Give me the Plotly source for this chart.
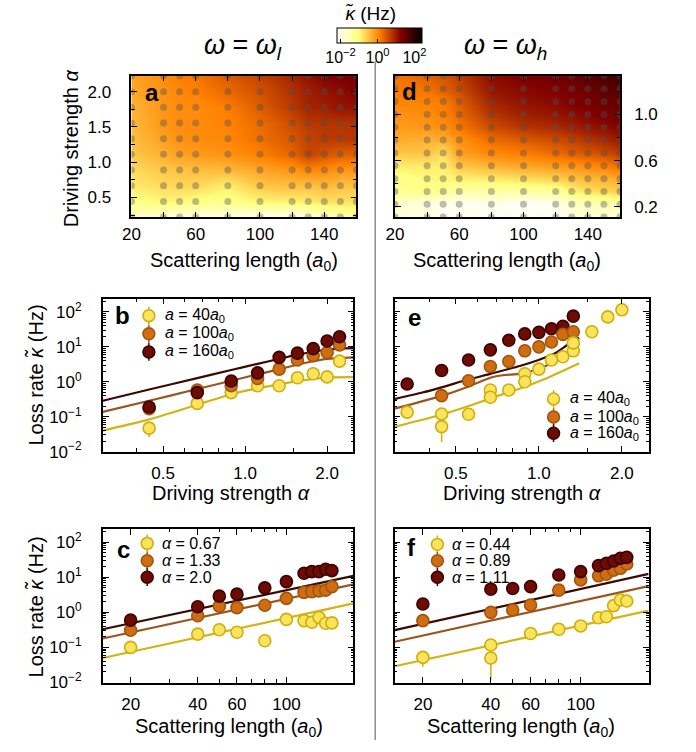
import plotly.graph_objects as go

W, H = 696, 752
def fx(p): return p / W
def fy(p): return 1 - p / H

# ------------------------------------------------------------------ data
A_GRID = [20, 40, 50, 60, 80, 100, 120, 130, 140, 150, 160]

# panel a : omega = omega_l, log10(kappa) on (alpha, a) grid, rows = alpha
ALPHA_L = [0.222, 0.444, 0.667, 0.889, 1.111, 1.333, 1.556, 1.778, 2.0, 2.222]
LOGK_L = [
    [-1.61, -1.80, -1.90, -1.90, -1.90, -2.00, -1.98, -1.80, -1.60, -1.40, -1.30],
    [-1.14, -0.96, -1.00, -1.10, -1.15, -0.95, -0.92, -0.85, -0.77, -0.77, -0.77],
    [-0.87, -0.73, -0.69, -0.69, -0.92, -0.55, -0.47, -0.51, -0.42, -0.51, -0.51],
    [-0.73, -0.55, -0.51, -0.47, -0.42, -0.24, -0.10, 0.03, -0.01, -0.10, -0.10],
    [-0.55, -0.33, -0.19, -0.15, -0.06, 0.10, 0.35, 0.65, 0.50, 0.38, 0.38],
    [-0.47, -0.19, -0.06, -0.01, 0.03, 0.24, 0.47, 0.63, 0.72, 0.72, 0.76],
    [-0.42, -0.10, -0.01, -0.01, 0.08, 0.28, 0.56, 0.74, 0.78, 0.78, 0.81],
    [-0.37, -0.10, -0.01, -0.01, 0.12, 0.42, 0.74, 0.93, 0.97, 1.07, 1.07],
    [-0.28, -0.06, 0.03, 0.08, 0.29, 0.51, 0.81, 0.97, 1.07, 1.14, 1.23],
    [-0.22, -0.02, 0.10, 0.19, 0.42, 0.65, 0.93, 1.10, 1.23, 1.27, 1.37],
]

# panel d : omega = omega_h
ALPHA_H = [0.111, 0.222, 0.333, 0.444, 0.556, 0.667, 0.778, 0.889, 1.0, 1.111, 1.222, 1.333]
LOGK_H = [
    [-1.90, -1.95, -2.05, -2.05, -2.05, -2.05, -2.05, -1.85, -1.85, -1.85, -1.85],
    [-1.70, -1.95, -2.00, -2.10, -2.05, -2.15, -2.05, -1.70, -1.60, -1.50, -1.40],
    [-1.25, -1.15, -1.25, -1.40, -1.40, -1.35, -1.30, -0.95, -0.77, -0.69, -0.60],
    [-1.20, -1.00, -1.00, -0.95, -0.88, -0.77, -0.64, -0.51, -0.42, -0.37, -0.28],
    [-0.87, -0.87, -0.92, -0.55, -0.37, -0.24, -0.15, -0.10, -0.01, 0.08, 0.26],
    [-0.55, -0.51, -0.78, -0.19, 0.03, 0.12, 0.29, 0.40, 0.47, 0.56, 0.72],
    [-0.28, -0.37, -0.33, -0.06, 0.26, 0.42, 0.56, 0.65, 0.78, 0.88, 1.02],
    [-0.15, -0.10, -0.06, 0.17, 0.56, 0.78, 0.88, 0.97, 1.07, 1.14, 1.22],
    [-0.06, -0.01, 0.08, 0.30, 0.78, 0.97, 1.07, 1.14, 1.22, 1.32, 1.37],
    [0.05, 0.08, 0.12, 0.40, 0.93, 1.10, 1.17, 1.27, 1.32, 1.46, 1.50],
    [0.15, 0.20, 0.38, 0.56, 1.07, 1.18, 1.27, 1.32, 1.41, 1.55, 1.63],
    [0.19, 0.38, 0.47, 0.70, 1.14, 1.27, 1.37, 1.46, 1.60, 1.72, 1.85],
]

# panel b : loss rate vs driving strength, omega_l
ALPHA_B = [0.444, 0.667, 0.889, 1.111, 1.333, 1.556, 1.778, 2.0, 2.222]
B_40 = [0.047, 0.24, 0.49, 0.77, 0.77, 1.3, 1.7, 1.38, 3.9]
B_40_ERR = [0.021, 0, 0, 0, 0, 0, 0, 0, 0]
B_100 = [0.17, 0.58, 0.77, 1.24, 2.3, 4.2, 5.6, 6.9, 11.4]
B_160 = [0.19, 0.49, 1.05, 1.8, 5.0, 6.6, 8.9, 14.7, 19.5]
LINE_ALPHA_B = [0.30, 0.444, 0.667, 0.889, 1.111, 1.333, 1.556, 1.778, 2.0, 2.5]
LINE_B_40 = [0.040, 0.084, 0.22, 0.44, 0.65, 0.84, 1.04, 1.21, 1.32, 1.35]
LINE_B_100 = [0.138, 0.287, 0.62, 1.07, 1.64, 2.26, 3.13, 3.88, 4.51, 5.0]
LINE_B_160 = [0.287, 0.60, 1.27, 2.17, 3.27, 4.51, 5.97, 7.24, 8.41, 9.2]

# panel e : loss rate vs driving strength, omega_h
ALPHA_E40 = [0.333, 0.444, 0.444, 0.556, 0.667, 0.667, 0.778, 0.889, 0.889, 1.0,
             1.111, 1.222, 1.333, 1.333, 1.556, 1.778, 2.0]
E_40 = [0.135, 0.12, 0.052, 0.117, 0.58, 0.36, 0.58, 1.7, 1.0, 2.3,
        4.2, 5.2, 7.7, 13, 27, 72, 115]
E_40_ERR = [0, 0, 0.033, 0.03, 0, 0, 0, 0, 0, 0, 0, 0, 0, 0, 0, 0, 0]
ALPHA_E100 = [0.444, 0.556, 0.667, 0.778, 0.889, 1.0, 1.111, 1.222, 1.333]
E_100 = [0.40, 1.07, 2.75, 3.8, 7.7, 10, 13.8, 22.7, 27]
ALPHA_E160 = [0.333, 0.444, 0.556, 0.667, 0.778, 0.889, 1.0, 1.111, 1.222, 1.333]
E_160 = [0.86, 2.1, 4.2, 8.2, 15.4, 23.5, 26, 33, 39, 76]
LINE_ALPHA_E40 = [0.30, 0.444, 0.554, 0.671, 0.859, 1.04, 1.23, 1.40]
LINE_E_40 = [0.0513, 0.116, 0.200, 0.341, 0.650, 1.16, 2.12, 3.41]
LINE_ALPHA_E100 = [0.30, 0.444, 0.554, 0.671, 0.739, 0.859, 0.985, 1.13, 1.28, 1.40]
LINE_E_100 = [0.171, 0.396, 0.724, 1.32, 1.54, 1.71, 2.26, 3.64, 6.22, 8.61]
LINE_ALPHA_E160 = [0.30, 0.378, 0.444, 0.554, 0.671, 0.859, 0.985, 1.13, 1.28, 1.40]
LINE_E_160 = [0.320, 0.492, 0.693, 1.16, 1.71, 2.87, 4.05, 6.22, 11.9, 18.3]

# panel c : loss rate vs scattering length, omega_l
C_067 = [0.10, 0.24, 0.32, 0.27, 0.155, 0.63, 0.58, 0.52, 0.72, 0.49, 0.50]
C_067_ERR = [0.02, 0, 0, 0, 0, 0, 0, 0, 0, 0, 0]
C_133 = [0.31, 0.8, 1.5, 1.36, 1.6, 2.5, 3.7, 3.9, 4.1, 4.3, 5.4]
C_200 = [0.6, 1.45, 2.9, 3.3, 5.0, 7.5, 13, 14.5, 14.5, 17, 15.5]
LINE_A = [15, 200]
LINE_C_067 = [0.05, 1.8]
LINE_C_133 = [0.18, 6.3]
LINE_C_200 = [0.33, 11.0]

# panel f : loss rate vs scattering length, omega_h
F_A_044 = [20, 40, 40, 60, 80, 100, 120, 130, 140, 150, 160]
F_044 = [0.052, 0.117, 0.05, 0.25, 0.33, 0.41, 0.70, 0.75, 1.55, 2.25, 2.1]
F_044_ERR = [0.024, 0, 0.038, 0, 0, 0, 0, 0, 0, 0, 0]
F_089 = [0.58, 1.0, 1.17, 1.62, 4.3, 8.4, 11, 12.2, 16, 18, 24]
F_111 = [1.73, 4.6, 4.8, 5.4, 11.6, 14.5, 21.5, 25, 29, 35, 37]
LINE_F_044 = [0.029, 1.12]
LINE_F_089 = [0.145, 5.6]
LINE_F_111 = [0.31, 12.5]

LEG_B = ["<i>a</i> = 40<i>a</i><sub>0</sub>", "<i>a</i> = 100<i>a</i><sub>0</sub>",
         "<i>a</i> = 160<i>a</i><sub>0</sub>"]
LEG_C = ["<i>α</i> = 0.67", "<i>α</i> = 1.33", "<i>α</i> = 2.0"]
LEG_F = ["<i>α</i> = 0.44", "<i>α</i> = 0.89", "<i>α</i> = 1.11"]

HEAT_TICKS = [20, 60, 100, 140]
HEAT_MINOR = [40, 80, 120, 160]

# ------------------------------------------------------------------ styles
FONT = "Liberation Sans"
YEL = dict(fill="#f9e45b", edge="#cfae0e", line="#d2b412")
ORG = dict(fill="#cf6d12", edge="#a3550d", line="#9a5620")
DRK = dict(fill="#6d0b04", edge="#3b0402", line="#3a0a02")
AFMHOT_R = [[0, "#ffffff"], [0.25, "#ffff80"], [0.5, "#ff8000"], [0.75, "#800000"], [1, "#000000"]]

fig = go.Figure()

# ------------------------------------------------------------------ heatmaps
for (xa, ya, alph, z) in [("x", "y", ALPHA_L, LOGK_L), ("x2", "y2", ALPHA_H, LOGK_H)]:
    fig.add_trace(go.Heatmap(x=A_GRID, y=alph, z=z, coloraxis="coloraxis", zsmooth="best",
                             xaxis=xa, yaxis=ya, hoverinfo="skip"))
    gx = [a for al in alph for a in A_GRID]
    gy = [al for al in alph for a in A_GRID]
    fig.add_trace(go.Scatter(x=gx, y=gy, mode="markers", xaxis=xa, yaxis=ya, showlegend=False,
                             marker=dict(size=7, color="rgba(80,80,80,0.38)"), hoverinfo="skip"))


def line(x, y, c, xa, ya):
    fig.add_trace(go.Scatter(x=x, y=y, mode="lines", xaxis=xa, yaxis=ya, showlegend=False,
                             line=dict(color=c["line"], width=2.2, shape="spline", smoothing=0.8)))


def pts(x, y, c, xa, ya, err=None):
    kw = {}
    if err is not None:
        kw["error_y"] = dict(type="data", array=err, visible=True, color=c["edge"],
                             thickness=1.5, width=0)
    fig.add_trace(go.Scatter(x=x, y=y, mode="markers", xaxis=xa, yaxis=ya, showlegend=False,
                             cliponaxis=False,
                             marker=dict(size=12, color=c["fill"], line=dict(color=c["edge"], width=1.6)),
                             **kw))

# panel b
line(LINE_ALPHA_B, LINE_B_40, YEL, "x3", "y3")
line(LINE_ALPHA_B, LINE_B_100, ORG, "x3", "y3")
line(LINE_ALPHA_B, LINE_B_160, DRK, "x3", "y3")
pts(ALPHA_B, B_40, YEL, "x3", "y3", B_40_ERR)
pts(ALPHA_B, B_100, ORG, "x3", "y3")
pts(ALPHA_B, B_160, DRK, "x3", "y3")

# panel e
line(LINE_ALPHA_E40, LINE_E_40, YEL, "x4", "y4")
line(LINE_ALPHA_E100, LINE_E_100, ORG, "x4", "y4")
line(LINE_ALPHA_E160, LINE_E_160, DRK, "x4", "y4")
pts(ALPHA_E160, E_160, DRK, "x4", "y4")
pts(ALPHA_E100, E_100, ORG, "x4", "y4")
pts(ALPHA_E40, E_40, YEL, "x4", "y4", E_40_ERR)

# panel c
line(LINE_A, LINE_C_067, YEL, "x5", "y5")
line(LINE_A, LINE_C_133, ORG, "x5", "y5")
line(LINE_A, LINE_C_200, DRK, "x5", "y5")
pts(A_GRID, C_067, YEL, "x5", "y5", C_067_ERR)
pts(A_GRID, C_133, ORG, "x5", "y5")
pts(A_GRID, C_200, DRK, "x5", "y5")

# panel f
line(LINE_A, LINE_F_044, YEL, "x6", "y6")
line(LINE_A, LINE_F_089, ORG, "x6", "y6")
line(LINE_A, LINE_F_111, DRK, "x6", "y6")
pts(F_A_044, F_044, YEL, "x6", "y6", F_044_ERR)
pts(A_GRID, F_089, ORG, "x6", "y6")
pts(A_GRID, F_111, DRK, "x6", "y6")

# ------------------------------------------------------------------ axes
def ax(**kw):
    d = dict(showline=True, linecolor="black", linewidth=1.5, mirror="allticks", ticks="inside",
             ticklen=6, tickwidth=1.2, tickcolor="black", showgrid=False, zeroline=False,
             tickfont=dict(size=17, color="black", family=FONT), ticklabelstandoff=5)
    d.update(kw)
    return d

MINOR = lambda vals, n=3.5: dict(tickvals=vals, ticks="inside", ticklen=n, tickwidth=1, tickcolor="black")

xa_heat = dict(range=[20, 160], tickvals=HEAT_TICKS, ticktext=[str(v) for v in HEAT_TICKS],
               ticklen=5, minor=MINOR(HEAT_MINOR, 5), ticklabelstandoff=1)
dom_L = [fx(124), fx(352)]
dom_R = [fx(391), fx(619)]
dom_yh = [fy(220), fy(77)]
dom_Lb = [fx(95), fx(349)]
dom_Rb = [fx(390.7), fx(648)]
dom_yb = [fy(457.7), fy(302.7)]
dom_yc = [fy(691.7), fy(536)]

ylog_ticks = [0.01, 0.1, 1, 10, 100]
ylog_text = ["10<sup>−2</sup>", "10<sup>−1</sup>", "10<sup>0</sup>", "10<sup>1</sup>", "10<sup>2</sup>"]
ylog_minor = [k * 10 ** n for n in range(-2, 3) for k in range(2, 10) if k * 10 ** n < 240]
ylog = dict(type="log", range=[-2, 2.38], tickvals=ylog_ticks, ticktext=ylog_text,
            minor=MINOR(ylog_minor, 3), ticklabelstandoff=16)

xalpha = dict(type="log", range=[-0.5229, 0.3979], tickvals=[0.5, 1, 2],
              ticktext=["0.5", "1.0", "2.0"], minor=MINOR([0.4, 0.6, 0.7, 0.8, 0.9, 1.5]))
xa_len = dict(type="log", range=[1.176, 2.301], tickvals=[20, 40, 60, 100],
              ticktext=["20", "40", "60", "100"], minor=MINOR([30, 50, 70, 80, 90, 200]))

fig.update_layout(
    xaxis=ax(domain=dom_L, anchor="y", **xa_heat),
    yaxis=ax(domain=dom_yh, anchor="x", range=[0.222, 2.222], tickvals=[0.5, 1, 1.5, 2],
             ticktext=["0.5", "1.0", "1.5", "2.0"], minor=MINOR([0.25, 0.75, 1.25, 1.75]),
             ticklabelstandoff=15),
    xaxis2=ax(domain=dom_R, anchor="y2", **xa_heat),
    yaxis2=ax(domain=dom_yh, anchor="x2", side="right", range=[0.111, 1.333],
              tickvals=[0.2, 0.6, 1.0], ticktext=["0.2", "0.6", "1.0"],
              minor=MINOR([0.4, 0.8, 1.2]), ticklabelstandoff=9),
    xaxis3=ax(domain=dom_Lb, anchor="y3", **xalpha),
    yaxis3=ax(domain=dom_yb, anchor="x3", **ylog),
    xaxis4=ax(domain=dom_Rb, anchor="y4", **xalpha),
    yaxis4=ax(domain=dom_yb, anchor="x4", showticklabels=False, **ylog),
    xaxis5=ax(domain=dom_Lb, anchor="y5", **xa_len),
    yaxis5=ax(domain=dom_yc, anchor="x5", **ylog),
    xaxis6=ax(domain=dom_Rb, anchor="y6", **xa_len),
    yaxis6=ax(domain=dom_yc, anchor="x6", showticklabels=False, **ylog),
)

fig.update_layout(
    width=W, height=H, margin=dict(l=0, r=0, t=0, b=0),
    paper_bgcolor="white", plot_bgcolor="white", showlegend=False,
    font=dict(family=FONT, color="black", size=17),
    coloraxis=dict(colorscale=AFMHOT_R, cmin=-2.2, cmax=2.4,
                   colorbar=dict(orientation="h", x=fx(375.2), xanchor="center", y=fy(28.3),
                                 yanchor="top", len=85, lenmode="pixels", thickness=15,
                                 thicknessmode="pixels", xpad=0, ypad=0, outlinewidth=1,
                                 outlinecolor="black", tickvals=[-2, 0, 2],
                                 ticktext=["10<sup>−2</sup>", "10<sup>0</sup>", "10<sup>2</sup>"],
                                 ticks="inside", ticklen=4, tickcolor="black",
                                 tickfont=dict(size=16, family=FONT, color="black"))),
)

# ------------------------------------------------------------------ annotations
ann = []
def text(x, y, s, size=20, angle=0, xanchor="center", bold=False):
    ann.append(dict(x=fx(x), y=fy(y), xref="paper", yref="paper", text=(f"<b>{s}</b>" if bold else s),
                    showarrow=False, xanchor=xanchor, yanchor="middle", textangle=angle,
                    font=dict(size=size, family=FONT, color="black")))

text(237, 48, "<i>ω</i> = <i>ω<sub>l</sub></i>", size=27)
text(503, 48, "<i>ω</i> = <i>ω<sub>h</sub></i>", size=27)
text(366, 14, "<i>κ̃</i> (Hz)", size=19)
text(63, 150, "Driving strength <i>α</i>", angle=-90)
text(238, 265, "Scattering length (<i>a</i><sub>0</sub>)")
text(505, 265, "Scattering length (<i>a</i><sub>0</sub>)")
text(27, 380, "Loss rate <i>κ̃</i> (Hz)", angle=-90)
text(27, 615, "Loss rate <i>κ̃</i> (Hz)", angle=-90)
text(225, 500, "Driving strength <i>α</i>")
text(520, 500, "Driving strength <i>α</i>")
text(223, 737, "Scattering length (<i>a</i><sub>0</sub>)")
text(519, 737, "Scattering length (<i>a</i><sub>0</sub>)")
for (x, y, s) in [(145, 94, "a"), (406, 93, "d"), (115, 320, "b"), (411, 322, "e"),
                  (116, 557, "c"), (408, 555, "f")]:
    text(x, y, s, size=24, bold=True)

shapes = [dict(type="line", xref="paper", yref="paper", x0=fx(371), x1=fx(371), y0=fy(62), y1=fy(750),
               line=dict(color="#8c8c8c", width=1.5))]

def legend(mx, ys, labels, tx):
    for y, lab, c in zip(ys, labels, [YEL, ORG, DRK]):
        shapes.append(dict(type="line", xref="paper", yref="paper", x0=fx(mx), x1=fx(mx),
                           y0=fy(y + 9), y1=fy(y - 9), line=dict(color=c["edge"], width=1.5)))
        shapes.append(dict(type="circle", xref="paper", yref="paper", x0=fx(mx - 6), x1=fx(mx + 6),
                           y0=fy(y + 6), y1=fy(y - 6), fillcolor=c["fill"],
                           line=dict(color=c["edge"], width=1.6)))
        text(tx, y, lab, size=16, xanchor="left")

legend(141.7, [320, 338.3, 356.7], LEG_B, 156)
legend(551.7, [404.3, 422.7, 439], LEG_B, 566)
legend(140, [550.7, 568.3, 585], LEG_C, 153)
legend(434, [551.7, 568.3, 585], LEG_F, 447)

fig.update_layout(annotations=ann, shapes=shapes)
fig.write_html("out.html")
